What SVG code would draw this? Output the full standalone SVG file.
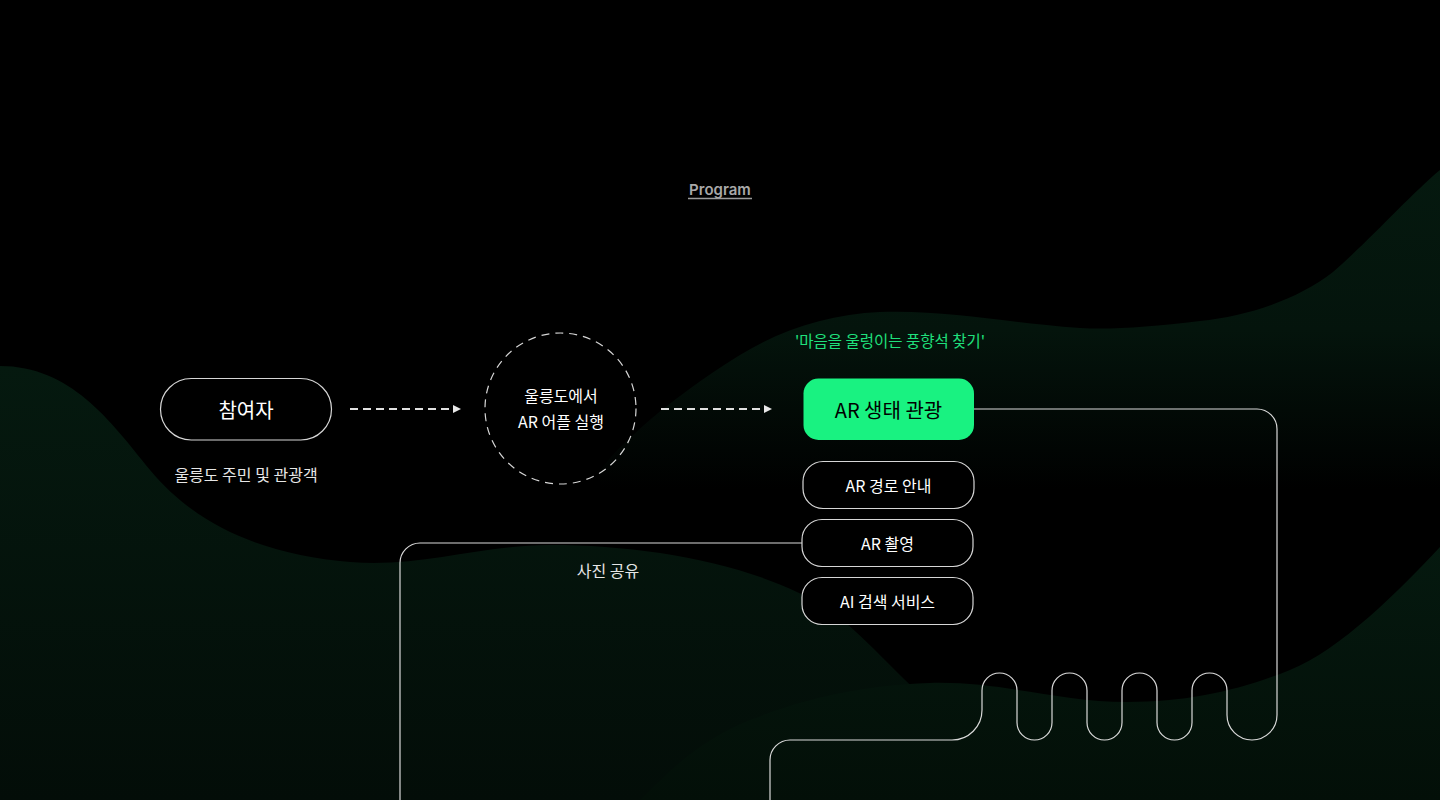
<svg xmlns="http://www.w3.org/2000/svg" width="1440" height="800" viewBox="0 0 1440 800">
  <defs>
    <linearGradient id="gA" gradientUnits="userSpaceOnUse" x1="0" y1="366" x2="0" y2="800">
      <stop offset="0" stop-color="#05190f"/>
      <stop offset="1" stop-color="#030d08"/>
    </linearGradient>
    <linearGradient id="gB" gradientUnits="userSpaceOnUse" x1="0" y1="170" x2="0" y2="490">
      <stop offset="0" stop-color="#05190f" stop-opacity="1"/>
      <stop offset="0.5" stop-color="#05190f" stop-opacity="0.8"/>
      <stop offset="1" stop-color="#05190f" stop-opacity="0"/>
    </linearGradient>
    <linearGradient id="gC" gradientUnits="userSpaceOnUse" x1="0" y1="545" x2="0" y2="800">
      <stop offset="0" stop-color="#05190f"/>
      <stop offset="1" stop-color="#030f08"/>
    </linearGradient>
  </defs>
  <style>
    .kr { font-family: "Noto Sans CJK KR", "Noto Sans", sans-serif; }
    .lbl { font-size: 16px; fill: #ffffff; text-anchor: middle; dominant-baseline: central; }
    .big { font-size: 20px; text-anchor: middle; dominant-baseline: central; }
    .pill { fill: #000; stroke: #d6d6d6; stroke-width: 1.2; }
    .conn { fill: none; stroke: #d9d9d9; stroke-width: 1.2; }
    .dash { fill: none; stroke: #e0e0e0; stroke-width: 2; stroke-dasharray: 8 5; }
    .head { fill: #e8e8e8; }
  </style>

  <rect x="0" y="0" width="1440" height="800" fill="#000"/>

  <g id="background">
    <path d="M0,366 C70,366 110,420 150,470 C200,530 270,555 350,562 C420,568 480,545 550,545 C650,545 760,565 830,610 C870,640 910,690 940,710 L1000,800 L0,800 Z" fill="url(#gA)"/>
    <path d="M1440,170 C1410,195 1370,240 1333,272 C1300,298 1250,316 1200,321 C1150,327 1110,330 1080,328 C1000,322 950,310 880,312 C830,314 780,330 740,355 C700,380 650,415 610,458 L600,470 L600,560 L1440,560 Z" fill="url(#gB)"/>
    <path d="M640,800 C670,770 700,740 750,720 C800,700 860,685 930,683 C1000,681 1060,702 1127,702 C1190,702 1240,690 1290,670 C1340,650 1400,590 1440,547 L1440,800 Z" fill="url(#gC)"/>
  </g>

  <g id="title">
    <text x="720" y="195" font-family="Inter, 'Noto Sans', sans-serif" font-weight="600" font-size="15" fill="#a8a8a8" text-anchor="middle">Program</text>
    <line x1="688" y1="198.5" x2="752" y2="198.5" stroke="#9a9a9a" stroke-width="1.5"/>
  </g>

  <g id="connectors">
    <line class="dash" x1="350" y1="409" x2="453" y2="409"/>
    <path class="head" d="M453,405 L461,409 L453,413 Z"/>
    <line class="dash" x1="661" y1="409" x2="764" y2="409"/>
    <path class="head" d="M764,405 L772,409 L764,413 Z"/>
    <path class="conn" d="M974,409 H1257 A20,20 0 0 1 1277,429 V715 A25,25 0 0 1 1227,715 V690.5 A17.5,17.5 0 0 0 1192,690.5 V722.5 A17.5,17.5 0 0 1 1157,722.5 V690.5 A17.5,17.5 0 0 0 1122,690.5 V722.5 A17.5,17.5 0 0 1 1087,722.5 V690.5 A17.5,17.5 0 0 0 1052,690.5 V722.5 A17.5,17.5 0 0 1 1017,722.5 V690.5 A17.5,17.5 0 0 0 982,690.5 V710 A30,30 0 0 1 952,740 H790 A20,20 0 0 0 770,760 V800"/>
    <path class="conn" d="M802,543 H420 A20,20 0 0 0 400,563 V800"/>
    <text class="kr lbl" x="608" y="570" style="fill:#e6e6e6">사진 공유</text>
  </g>

  <g id="participant">
    <rect class="pill" x="160.5" y="378.5" width="171" height="61.5" rx="30.75"/>
    <text class="kr big" x="246" y="409" fill="#ffffff">참여자</text>
    <text class="kr lbl" x="246" y="474" style="fill:#e6e6e6">울릉도 주민 및 관광객</text>
  </g>

  <g id="app">
    <circle cx="560.5" cy="408.5" r="75.5" fill="none" stroke="#d6d6d6" stroke-width="1.2" stroke-dasharray="8 6"/>
    <text class="kr lbl" x="561" y="395">울릉도에서</text>
    <text class="kr lbl" x="561" y="421">AR 어플 실행</text>
  </g>

  <g id="ar-eco">
    <text class="kr lbl" x="890" y="339.5" style="fill:#1fe07c;font-size:15.5px">'마음을 울렁이는 풍향석 찾기'</text>
    <rect x="803.5" y="378.5" width="170.5" height="61.5" rx="15" fill="#19f281"/>
    <text class="kr big" x="888.5" y="409" fill="#000000">AR 생태 관광</text>
  </g>

  <g id="ar-route">
    <rect class="pill" x="803" y="461.5" width="171" height="47" rx="20"/>
    <text class="kr lbl" x="888.5" y="485">AR 경로 안내</text>
  </g>

  <g id="ar-photo">
    <rect class="pill" x="802" y="519.5" width="171" height="47" rx="20"/>
    <text class="kr lbl" x="887.5" y="543">AR 촬영</text>
  </g>

  <g id="ai-search">
    <rect class="pill" x="802" y="577.5" width="171" height="47" rx="20"/>
    <text class="kr lbl" x="887.5" y="601">AI 검색 서비스</text>
  </g>
</svg>
